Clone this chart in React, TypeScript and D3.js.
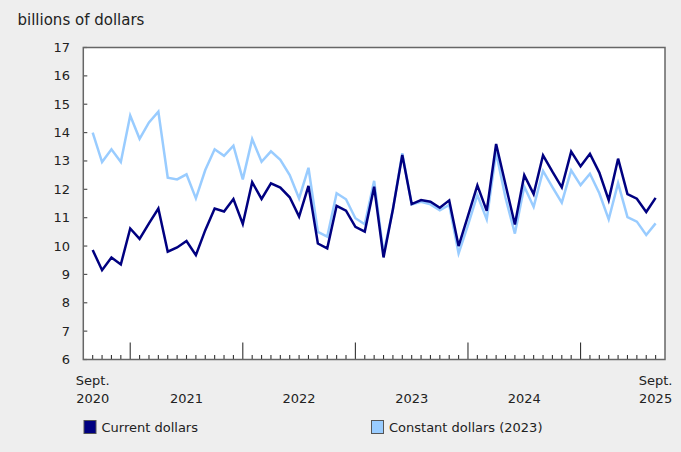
import * as d3 from "d3";

// monthly, Sept. 2020 .. Sept. 2025, billions of dollars
const startMonth = new Date(2020, 8, 1);
const current = [
  9.86, 9.15, 9.6, 9.35, 10.62, 10.25, 10.8, 11.32, 9.8, 9.95, 10.18, 9.68,
  10.56, 11.32, 11.22, 11.66, 10.78, 12.25, 11.66, 12.21, 12.06, 11.72, 11.04, 12.12,
  10.09, 9.92, 11.42, 11.25, 10.68, 10.51, 12.09, 9.6, 11.3, 13.21, 11.48, 11.62,
  11.56, 11.35, 11.61, 10.0, 11.06, 12.14, 11.24, 13.6, 12.17, 10.76, 12.5, 11.83,
  13.2, 12.62, 12.07, 13.33, 12.81, 13.25, 12.59, 11.62, 13.08, 11.83, 11.67, 11.2,
  11.7,
];
const constant = [
  14.0, 12.96, 13.41, 12.96, 14.6, 13.78, 14.36, 14.74, 12.41, 12.35, 12.53, 11.68,
  12.68, 13.41, 13.18, 13.54, 12.35, 13.77, 12.97, 13.34, 13.04, 12.5, 11.68, 12.76,
  10.5, 10.33, 11.86, 11.65, 10.98, 10.77, 12.3, 9.74, 11.3, 13.27, 11.47, 11.56,
  11.47, 11.26, 11.45, 9.74, 10.74, 11.8, 10.94, 13.3, 11.7, 10.44, 12.1, 11.38,
  12.65, 12.08, 11.53, 12.67, 12.15, 12.55, 11.86, 10.94, 12.22, 11.02, 10.86, 10.39,
  10.8,
];
const yTicks = [6, 7, 8, 9, 10, 11, 12, 13, 14, 15, 16, 17];
const yearLabels = ["2021", "2022", "2023", "2024"];
const endLabels = [["Sept.", "2020"], ["Sept.", "2025"]];
const title = "billions of dollars";
const seriesNames = ["Current dollars", "Constant dollars (2023)"];
const colors = ["#000080", "#99ccff"];

const FONT = "'DejaVu Sans', Verdana, sans-serif";

export default function App() {
  const W = 681, H = 452;
  const plot = { left: 83.3, right: 665, top: 47.5, bottom: 359.5 };

  const months = d3.timeMonth.range(startMonth, d3.timeMonth.offset(startMonth, current.length));
  const x = d3.scaleLinear().domain([-1, months.length]).range([plot.left, plot.right]);
  const y = d3.scaleLinear().domain([6, 17]).range([plot.bottom, plot.top]);
  const line = d3.line<number>().x((_, i) => x(i)).y((d) => y(d));

  const janIdx = months.map((m, i) => (m.getMonth() === 0 ? i : -1)).filter((i) => i >= 0);

  return (
    <svg width={W} height={H} style={{ position: "absolute", left: 0, top: 0, display: "block" }} fontFamily={FONT}>
      <rect x={0} y={0} width={W} height={H} fill="#eeeeee" />
      <text x={17.5} y={24.5} fontSize={15} fill="#222">{title}</text>

      <rect x={plot.left} y={plot.top} width={plot.right - plot.left} height={plot.bottom - plot.top} fill="#fff" />

      {/* y ticks + labels */}
      {yTicks.map((t) => (
        <g key={t}>
          <line x1={plot.left} x2={plot.left + 4} y1={y(t)} y2={y(t)} stroke="#555" strokeWidth={1.2} />
          <text x={70} y={y(t) + 4.5} textAnchor="end" fontSize={13} fill="#222">{t}</text>
        </g>
      ))}

      {/* month ticks, taller at January */}
      {months.map((m, i) => {
        const big = m.getMonth() === 0;
        return (
          <line key={i} x1={x(i)} x2={x(i)} y1={plot.bottom} y2={plot.bottom - (big ? 17 : 4.5)}
            stroke="#333" strokeWidth={1.1} />
        );
      })}

      {/* x labels */}
      {[0, months.length - 1].map((i, k) => (
        <g key={`e${i}`}>
          <text x={x(i)} y={385} textAnchor="middle" fontSize={13} fill="#222">{endLabels[k][0]}</text>
          <text x={x(i)} y={403} textAnchor="middle" fontSize={13} fill="#222">{endLabels[k][1]}</text>
        </g>
      ))}
      {yearLabels.map((lab, k) => (
        <text key={lab} x={x(janIdx[k] + 6)} y={403} textAnchor="middle" fontSize={13} fill="#222">{lab}</text>
      ))}

      <path d={line(constant) ?? ""} fill="none" stroke={colors[1]} strokeWidth={2.5} strokeLinejoin="miter" />
      <path d={line(current) ?? ""} fill="none" stroke={colors[0]} strokeWidth={2.5} strokeLinejoin="miter" />

      <rect x={plot.left} y={plot.top} width={plot.right - plot.left} height={plot.bottom - plot.top}
        fill="none" stroke="#666" strokeWidth={1.5} />

      {/* legend */}
      {seriesNames.map((name, k) => {
        const lx = k === 0 ? 83.5 : 371;
        return (
          <g key={name}>
            <rect x={lx + 0.5} y={420.5} width={12} height={13} fill={colors[k]} stroke="#555" strokeWidth={1} />
            <text x={lx + 18} y={431.5} fontSize={13} fill="#222">{name}</text>
          </g>
        );
      })}
    </svg>
  );
}
